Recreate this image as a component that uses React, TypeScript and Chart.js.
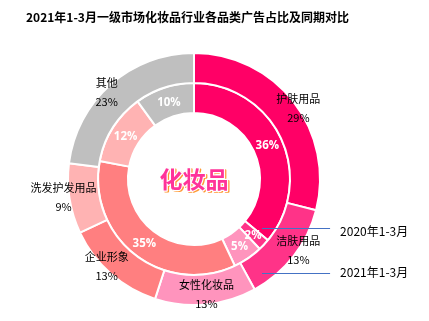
import React, { useEffect, useRef } from "react";
import { Chart, registerables } from "chart.js";

Chart.register(...registerables);

const title = "2021年1-3月一级市场化妆品行业各品类广告占比及同期对比";
const categories = ["护肤用品", "洁肤用品", "女性化妆品", "企业形象", "洗发护发用品", "其他"];
const values2021 = [29, 13, 13, 13, 9, 23];
const values2020 = [36, 2, 5, 35, 12, 10];
const colors = ["#FF0066", "#FF3388", "#FF94BD", "#FF7F80", "#FFB3B3", "#BFBFBF"];
const seriesNames = ["2021年1-3月", "2020年1-3月"];
const centerText = "化妆品";

const CJK = '"Noto Sans CJK SC", "Noto Sans", sans-serif';

const labelPlugin = {
  id: "customLabels",
  afterDraw(chart: any) {
    const ctx = chart.ctx as CanvasRenderingContext2D;
    ctx.save();
    // title
    ctx.fillStyle = "#000";
    ctx.font = `bold 12px ${CJK}`;
    ctx.textAlign = "left";
    ctx.textBaseline = "middle";
    ctx.fillText(title, 26, 17);

    const outerMeta = chart.getDatasetMeta(0);
    const innerMeta = chart.getDatasetMeta(1);
    const a0 = outerMeta.data[0];
    const cx = a0.x;
    const cy = a0.y;
    const outerR = a0.outerRadius;

    // outer labels
    ctx.font = `11px ${CJK}`;
    ctx.textAlign = "center";
    ctx.fillStyle = "#000";
    outerMeta.data.forEach((arc: any, i: number) => {
      const mid = (arc.startAngle + arc.endAngle) / 2;
      const x = cx + Math.cos(mid) * outerR * 1.048;
      const y = cy + Math.sin(mid) * outerR * 0.92;
      ctx.fillText(categories[i], x, y - 9.5);
      ctx.fillText(values2021[i] + "%", x, y + 9.5);
    });

    // inner labels
    ctx.font = `bold 11.5px "Open Sans", "DejaVu Sans", sans-serif`;
    ctx.fillStyle = "#fff";
    innerMeta.data.forEach((arc: any, i: number) => {
      const mid = (arc.startAngle + arc.endAngle) / 2;
      const r = (arc.innerRadius + arc.outerRadius) / 2;
      ctx.fillText(values2020[i] + "%", cx + Math.cos(mid) * r, cy + Math.sin(mid) * r + 1);
    });

    // center text
    ctx.font = `bold 23px ${CJK}`;
    ctx.lineJoin = "round";
    ctx.strokeStyle = "#FF9933";
    ctx.lineWidth = 2;
    ctx.strokeText(centerText, cx + 1.5, cy + 1.5);
    ctx.fillStyle = "#FF9933";
    ctx.fillText(centerText, cx + 1.5, cy + 1.5);
    ctx.strokeStyle = "#FFFFFF";
    ctx.lineWidth = 2.5;
    ctx.strokeText(centerText, cx, cy);
    ctx.fillStyle = "#FF3399";
    ctx.fillText(centerText, cx, cy);

    // series annotations
    const lx0 = cx + outerR * 0.54;
    const lx1 = cx + outerR * 1.08;
    const ys = [cy + outerR * 0.745, cy + outerR * 0.39];
    ctx.strokeStyle = "#4472C4";
    ctx.lineWidth = 1;
    ctx.font = `12px ${CJK}`;
    ctx.fillStyle = "#000";
    ctx.textAlign = "left";
    seriesNames.forEach((name, i) => {
      const y = Math.round(ys[i]) + 0.5;
      ctx.beginPath();
      ctx.moveTo(lx0, y);
      ctx.lineTo(lx1, y);
      ctx.stroke();
      ctx.fillText(name, lx1 + 10, y + (i === 1 ? 2.5 : -1.5));
    });
    ctx.restore();
  },
};

export default function App() {
  const ref = useRef<HTMLCanvasElement>(null);
  useEffect(() => {
    if (!ref.current) return;
    const chart = new Chart(ref.current, {
      type: "doughnut",
      data: {
        labels: categories,
        datasets: [
          { label: seriesNames[0], data: values2021, backgroundColor: colors, borderColor: "#fff", borderWidth: 2, hoverOffset: 0 },
          { label: seriesNames[1], data: values2020, backgroundColor: colors, borderColor: "#fff", borderWidth: 2, hoverOffset: 0 },
        ],
      },
      options: {
        responsive: false,
        animation: false,
        cutout: "52.4%",
        layout: { padding: { left: 67, top: 52, right: 108, bottom: 15 } },
        plugins: { legend: { display: false }, tooltip: { enabled: false }, title: { display: false } },
      },
      plugins: [labelPlugin],
    });
    return () => chart.destroy();
  }, []);
  return (
    <div style={{ position: "fixed", left: 0, top: 0, width: 429, height: 321, background: "#fff" }}>
      <canvas ref={ref} width={429} height={321} />
    </div>
  );
}
